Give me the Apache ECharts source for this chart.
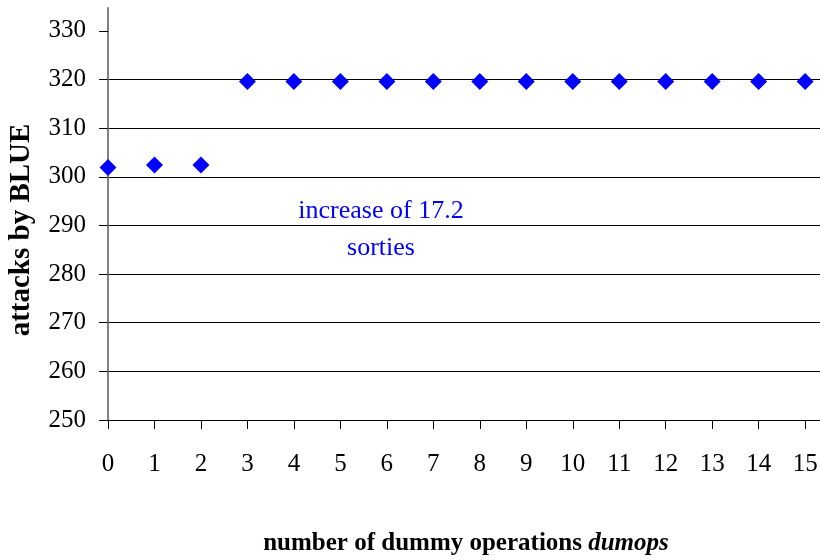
<!DOCTYPE html>
<html>
<head>
<meta charset="utf-8">
<script src="https://cdn.jsdelivr.net/npm/echarts@6/dist/echarts.min.js"></script>
<style>
html,body{margin:0;padding:0;background:#fff;}
#chart{width:820px;height:560px;}
</style>
</head>
<body>
<div id="chart"></div>
<script>
// Data
const dumops = [0, 1, 2, 3, 4, 5, 6, 7, 8, 9, 10, 11, 12, 13, 14, 15];
const attacksByBlue = [301.9, 302.4, 302.4, 319.6, 319.6, 319.6, 319.6, 319.6, 319.6, 319.6, 319.6, 319.6, 319.6, 319.6, 319.6, 319.6];
const yTicks = [250, 260, 270, 280, 290, 300, 310, 320, 330];
const xTicks = [0, 1, 2, 3, 4, 5, 6, 7, 8, 9, 10, 11, 12, 13, 14, 15];
const yTitle = 'attacks by BLUE';
const xTitleMain = 'number of dummy operations ';
const xTitleVar = 'dumops';
const noteText = 'increase of 17.2\nsorties';

const FONT = '"Liberation Serif", "Times New Roman", serif';
const chart = echarts.init(document.getElementById('chart'), null, {renderer: 'canvas'});

const points = dumops.map((d, i) => [d, attacksByBlue[i]]);

chart.setOption({
  animation: false,
  backgroundColor: '#ffffff',
  grid: {left: 108, right: 0, top: 8, bottom: 140, containLabel: false, outerBoundsMode: 'none'},
  xAxis: {
    type: 'value',
    min: 0,
    max: 15.32,
    interval: 1,
    axisLine: {show: true, onZero: false, lineStyle: {color: '#000', width: 1}},
    axisTick: {show: true, inside: false, length: 9, customValues: xTicks, lineStyle: {color: '#000', width: 1}},
    axisLabel: {
      show: true, margin: 32, customValues: xTicks,
      color: '#000', fontFamily: FONT, fontSize: 25,
      formatter: v => (Math.abs(v - Math.round(v)) < 1e-6 ? String(Math.round(v)) : '')
    },
    splitLine: {show: false}
  },
  yAxis: {
    type: 'value',
    min: 250,
    max: 334.7,
    interval: 10,
    axisLine: {show: true, onZero: false, lineStyle: {color: '#808080', width: 2}},
    axisTick: {show: true, inside: false, length: 9, customValues: yTicks, lineStyle: {color: '#000', width: 1}},
    axisLabel: {
      show: true, margin: 22, customValues: yTicks,
      color: '#000', fontFamily: FONT, fontSize: 25,
      formatter: v => (Math.abs(v % 10) < 1e-6 ? String(v) : '')
    },
    splitLine: {show: true, showMaxLine: false, lineStyle: {color: '#000', width: 1}}
  },
  series: [{
    type: 'scatter',
    data: points,
    symbol: 'diamond',
    symbolSize: 17,
    itemStyle: {color: '#0000ff', opacity: 1},
    z: 5
  }],
  graphic: [
    {
      type: 'text',
      x: 22, y: 230,
      rotation: Math.PI / 2,
      style: {
        text: yTitle,
        font: 'bold 29px ' + FONT,
        fill: '#000',
        align: 'center',
        verticalAlign: 'middle'
      }
    },
    {
      type: 'text',
      x: 466, y: 544,
      style: {
        text: '{m|' + xTitleMain + '}{v|' + xTitleVar + '}',
        align: 'center',
        verticalAlign: 'middle',
        rich: {
          m: {font: 'bold 25px ' + FONT, fill: '#000'},
          v: {font: 'italic bold 25px ' + FONT, fill: '#000'}
        }
      }
    },
    {
      type: 'text',
      x: 381, y: 230,
      z: 10,
      style: {
        text: noteText,
        font: '26px ' + FONT,
        fill: '#0000ff',
        align: 'center',
        verticalAlign: 'middle',
        lineHeight: 37
      }
    }
  ]
});
</script>
</body>
</html>
